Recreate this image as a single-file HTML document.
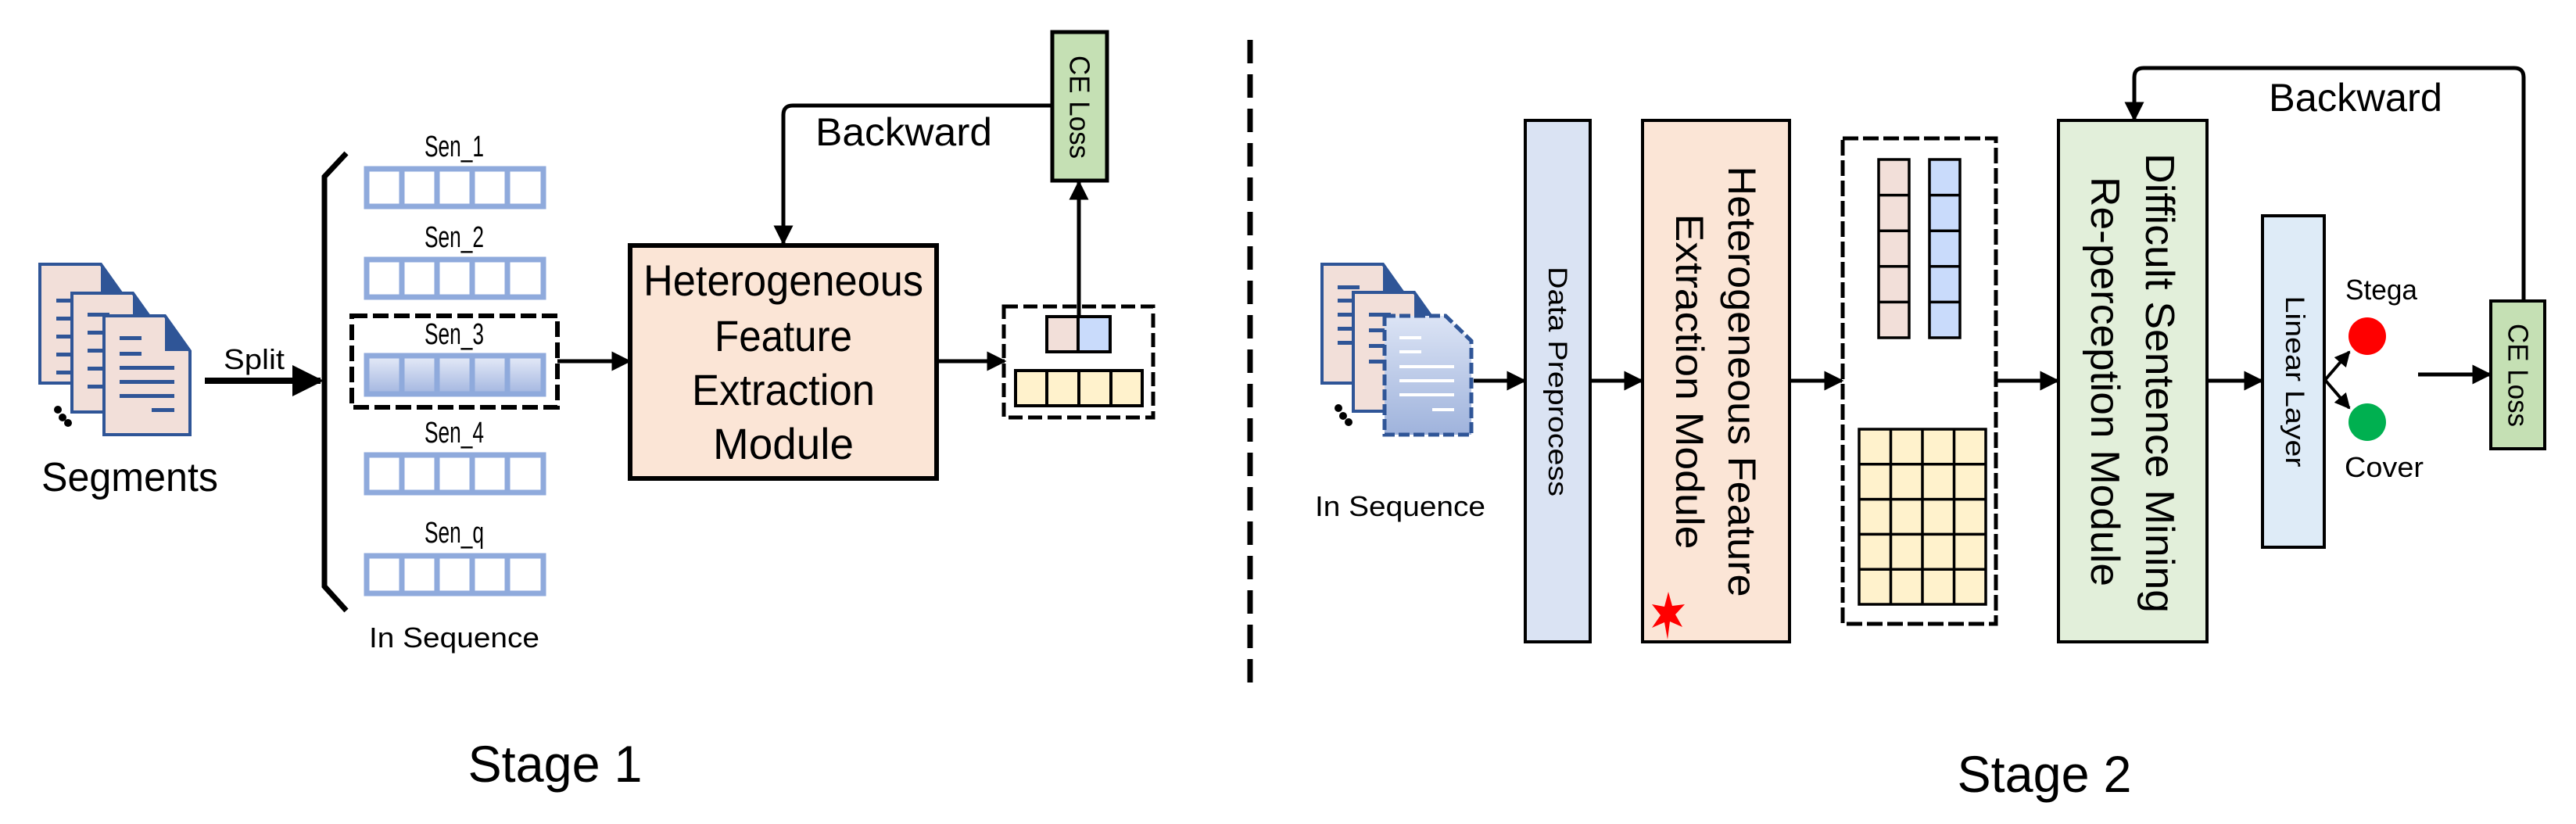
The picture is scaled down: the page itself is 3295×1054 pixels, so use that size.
<!DOCTYPE html>
<html><head><meta charset="utf-8"><style>
html,body{margin:0;padding:0;background:#fff;}
svg{display:block;}
text{font-family:"Liberation Sans",sans-serif;fill:#000;}
</style></head><body>
<svg width="3295" height="1054" viewBox="0 0 3295 1054" xmlns="http://www.w3.org/2000/svg">
<defs>
<marker id="ah" viewBox="0 0 10 10" refX="9" refY="5" markerWidth="5" markerHeight="5" orient="auto-start-reverse" markerUnits="strokeWidth"><path d="M0,0 L10,5 L0,10 z" fill="#000"/></marker>
<linearGradient id="g3" x1="0" y1="0" x2="0" y2="1"><stop offset="0" stop-color="#e6ebf8"/><stop offset="1" stop-color="#a3b6e0"/></linearGradient>
<linearGradient id="gd" x1="0" y1="0" x2="0" y2="1"><stop offset="0" stop-color="#dce4f5"/><stop offset="1" stop-color="#9fb3dc"/></linearGradient>
<g id="page">
<path d="M0,0 H78 L110,45 V152 H0 Z" fill="#f2dfd9" stroke="#2f5597" stroke-width="4"/>
<path d="M78,0 L110,45 H78 Z" fill="#2f5597"/>
</g>
</defs>

<!-- ===== Stage 1 ===== -->
<!-- docs -->
<g>
<use href="#page" x="51" y="338"/>
<g fill="#2f5597"><rect x="72" y="382" width="28" height="5"/><rect x="72" y="405" width="22" height="5"/><rect x="72" y="428" width="22" height="5"/><rect x="72" y="451" width="22" height="5"/><rect x="72" y="474" width="22" height="5"/></g>
<use href="#page" x="92" y="375"/>
<g fill="#2f5597"><rect x="112" y="400" width="28" height="5"/><rect x="112" y="423" width="22" height="5"/><rect x="112" y="446" width="22" height="5"/><rect x="112" y="469" width="22" height="5"/><rect x="112" y="492" width="22" height="5"/></g>
<use href="#page" x="133" y="404"/>
<g fill="#2f5597"><rect x="153" y="430" width="28" height="5"/><rect x="153" y="450" width="28" height="5"/><rect x="153" y="468" width="70" height="5"/><rect x="153" y="486" width="70" height="5"/><rect x="153" y="504" width="70" height="5"/><rect x="194" y="522" width="29" height="5"/></g>
<circle cx="74" cy="524" r="5"/><circle cx="80" cy="534" r="5"/><circle cx="87" cy="541" r="5"/>
</g>
<text x="166" y="628" font-size="52" text-anchor="middle" textLength="226" lengthAdjust="spacingAndGlyphs">Segments</text>

<!-- split arrow -->
<line x1="262" y1="487" x2="410" y2="487" stroke="#000" stroke-width="8" marker-end="url(#ah)"/>
<text x="325" y="472" font-size="36" text-anchor="middle" textLength="78" lengthAdjust="spacingAndGlyphs">Split</text>

<!-- bracket -->
<path d="M443,196 L415,226 V750 L443,781" fill="none" stroke="#000" stroke-width="7"/>

<!-- sen rows -->
<g stroke="#8faadc" stroke-width="7" fill="#fff">
<rect x="469" y="216" width="226" height="48"/>
<rect x="469" y="332" width="226" height="48"/>
<rect x="469" y="455" width="226" height="49" fill="url(#g3)"/>
<rect x="469" y="582" width="226" height="48"/>
<rect x="469" y="711" width="226" height="48"/>
<path d="M514,216V264 M559,216V264 M604,216V264 M649,216V264"/>
<path d="M514,332V380 M559,332V380 M604,332V380 M649,332V380"/>
<path d="M514,455V504 M559,455V504 M604,455V504 M649,455V504"/>
<path d="M514,582V630 M559,582V630 M604,582V630 M649,582V630"/>
<path d="M514,711V759 M559,711V759 M604,711V759 M649,711V759"/>
</g>
<g font-size="38" text-anchor="middle">
<text x="581" y="200" textLength="76" lengthAdjust="spacingAndGlyphs">Sen_1</text>
<text x="581" y="316" textLength="76" lengthAdjust="spacingAndGlyphs">Sen_2</text>
<text x="581" y="440" textLength="76" lengthAdjust="spacingAndGlyphs">Sen_3</text>
<text x="581" y="566" textLength="76" lengthAdjust="spacingAndGlyphs">Sen_4</text>
<text x="581" y="694" textLength="76" lengthAdjust="spacingAndGlyphs">Sen_q</text>
</g>
<rect x="450" y="404" width="263" height="117" fill="none" stroke="#000" stroke-width="6" stroke-dasharray="20,7"/>
<text x="581" y="828" font-size="36" text-anchor="middle" textLength="218" lengthAdjust="spacingAndGlyphs">In Sequence</text>

<line x1="713" y1="462" x2="805" y2="462" stroke="#000" stroke-width="5" marker-end="url(#ah)"/>

<!-- HFEM -->
<rect x="806" y="314" width="392" height="298" fill="#fbe5d6" stroke="#000" stroke-width="6"/>
<g font-size="56" text-anchor="middle">
<text x="1002" y="378" textLength="358" lengthAdjust="spacingAndGlyphs">Heterogeneous</text>
<text x="1002" y="449" textLength="176" lengthAdjust="spacingAndGlyphs">Feature</text>
<text x="1002" y="518" textLength="234" lengthAdjust="spacingAndGlyphs">Extraction</text>
<text x="1002" y="587" textLength="180" lengthAdjust="spacingAndGlyphs">Module</text>
</g>

<!-- backward 1 -->
<path d="M1346,135 H1014 Q1002,135 1002,147 V311" fill="none" stroke="#000" stroke-width="5" marker-end="url(#ah)"/>
<text x="1156" y="186" font-size="50" text-anchor="middle" textLength="226" lengthAdjust="spacingAndGlyphs">Backward</text>

<!-- CE loss 1 -->
<rect x="1346" y="41" width="70" height="190" fill="#c5e0b4" stroke="#000" stroke-width="5"/>
<text transform="translate(1381,137) rotate(90)" font-size="36" text-anchor="middle" dominant-baseline="central" textLength="132" lengthAdjust="spacingAndGlyphs">CE Loss</text>

<line x1="1198" y1="462" x2="1285" y2="462" stroke="#000" stroke-width="5" marker-end="url(#ah)"/>

<!-- output box 1 -->
<rect x="1284" y="392" width="191" height="142" fill="none" stroke="#000" stroke-width="5" stroke-dasharray="18,7"/>
<rect x="1339" y="405" width="40" height="45" fill="#f2dfd9" stroke="#000" stroke-width="4"/>
<rect x="1379" y="405" width="41" height="45" fill="#c9dbfb" stroke="#000" stroke-width="4"/>
<rect x="1299" y="474" width="162" height="45" fill="#fff2cc" stroke="#000" stroke-width="4"/>
<path d="M1339,474V519 M1380,474V519 M1421,474V519" stroke="#000" stroke-width="4"/>
<line x1="1380" y1="405" x2="1380" y2="233" stroke="#000" stroke-width="5" marker-end="url(#ah)"/>

<!-- divider -->
<line x1="1599" y1="51" x2="1599" y2="880" stroke="#000" stroke-width="7" stroke-dasharray="30,14"/>

<text x="710" y="1000" font-size="66" text-anchor="middle" textLength="223" lengthAdjust="spacingAndGlyphs">Stage 1</text>

<!-- ===== Stage 2 ===== -->
<g>
<use href="#page" x="1691" y="338"/>
<g fill="#2f5597"><rect x="1711" y="365" width="28" height="5"/><rect x="1711" y="382" width="22" height="5"/><rect x="1711" y="400" width="22" height="5"/><rect x="1711" y="418" width="22" height="5"/><rect x="1711" y="436" width="22" height="5"/></g>
<use href="#page" x="1731" y="374"/>
<g fill="#2f5597"><rect x="1751" y="400" width="28" height="5"/><rect x="1751" y="420" width="22" height="5"/><rect x="1751" y="440" width="22" height="5"/><rect x="1751" y="460" width="22" height="5"/></g>
<path d="M1771,404 H1849 L1882,436 V556 H1771 Z" fill="url(#gd)" stroke="#2f5597" stroke-width="5" stroke-dasharray="14,5"/>
<g fill="#fff"><rect x="1790" y="430" width="28" height="4"/><rect x="1790" y="448" width="28" height="4"/><rect x="1790" y="467" width="70" height="4"/><rect x="1790" y="485" width="70" height="4"/><rect x="1790" y="503" width="70" height="4"/><rect x="1832" y="522" width="28" height="4"/></g>
<circle cx="1712" cy="522" r="5"/><circle cx="1718" cy="532" r="5"/><circle cx="1725" cy="540" r="5"/>
</g>
<text x="1791" y="660" font-size="36" text-anchor="middle" textLength="218" lengthAdjust="spacingAndGlyphs">In Sequence</text>

<line x1="1885" y1="487" x2="1950" y2="487" stroke="#000" stroke-width="5" marker-end="url(#ah)"/>

<rect x="1951" y="154" width="83" height="667" fill="#dae3f3" stroke="#000" stroke-width="4"/>
<text transform="translate(1992,488) rotate(90)" font-size="34" text-anchor="middle" dominant-baseline="central" textLength="294" lengthAdjust="spacingAndGlyphs">Data Preprocess</text>

<line x1="2034" y1="487" x2="2100" y2="487" stroke="#000" stroke-width="5" marker-end="url(#ah)"/>

<rect x="2101" y="154" width="188" height="667" fill="#fbe5d6" stroke="#000" stroke-width="4"/>
<text transform="translate(2228,488) rotate(90)" font-size="50" text-anchor="middle" dominant-baseline="central" textLength="551" lengthAdjust="spacingAndGlyphs">Heterogeneous Feature</text>
<text transform="translate(2161,488) rotate(90)" font-size="50" text-anchor="middle" dominant-baseline="central" textLength="429" lengthAdjust="spacingAndGlyphs">Extraction Module</text>
<path d="M2134,757 L2139,775 L2155,773 L2143,786 L2152,802 L2136,795 L2133,818 L2129,796 L2113,803 L2124,787 L2113,773 L2129,776 Z" fill="#ff0000"/>

<line x1="2289" y1="487" x2="2356" y2="487" stroke="#000" stroke-width="5" marker-end="url(#ah)"/>

<rect x="2357" y="177" width="196" height="621" fill="none" stroke="#000" stroke-width="5" stroke-dasharray="20,6"/>
<rect x="2403" y="204" width="39" height="228" fill="#f2dfd9" stroke="#000" stroke-width="3.5"/>
<path d="M2403,249.6H2442 M2403,295.2H2442 M2403,340.8H2442 M2403,386.4H2442" stroke="#000" stroke-width="3.5"/>
<rect x="2468" y="204" width="39" height="228" fill="#c9dbfb" stroke="#000" stroke-width="3.5"/>
<path d="M2468,249.6H2507 M2468,295.2H2507 M2468,340.8H2507 M2468,386.4H2507" stroke="#000" stroke-width="3.5"/>
<rect x="2378" y="549" width="162" height="224" fill="#fff2cc" stroke="#000" stroke-width="3.5"/>
<path d="M2418.5,549V773 M2459,549V773 M2499.5,549V773 M2378,593.8H2540 M2378,638.6H2540 M2378,683.4H2540 M2378,728.2H2540" stroke="#000" stroke-width="3.5"/>

<line x1="2553" y1="487" x2="2632" y2="487" stroke="#000" stroke-width="5" marker-end="url(#ah)"/>

<rect x="2633" y="154" width="190" height="667" fill="#e2efda" stroke="#000" stroke-width="4"/>
<text transform="translate(2762,490) rotate(90)" font-size="52" text-anchor="middle" dominant-baseline="central" textLength="588" lengthAdjust="spacingAndGlyphs">Difficult Sentence Mining</text>
<text transform="translate(2692,488) rotate(90)" font-size="52" text-anchor="middle" dominant-baseline="central" textLength="524" lengthAdjust="spacingAndGlyphs">Re-perception Module</text>

<!-- backward 2 -->
<path d="M3228,384 V99 Q3228,87 3216,87 H2742 Q2730,87 2730,99 V153" fill="none" stroke="#000" stroke-width="5" marker-end="url(#ah)"/>
<text x="3013" y="142" font-size="50" text-anchor="middle" textLength="222" lengthAdjust="spacingAndGlyphs">Backward</text>

<line x1="2823" y1="487" x2="2893" y2="487" stroke="#000" stroke-width="5" marker-end="url(#ah)"/>

<rect x="2894" y="276" width="79" height="424" fill="#deebf7" stroke="#000" stroke-width="4"/>
<text transform="translate(2935,488) rotate(90)" font-size="34" text-anchor="middle" dominant-baseline="central" textLength="219" lengthAdjust="spacingAndGlyphs">Linear Layer</text>

<line x1="2974" y1="486" x2="3005" y2="450" stroke="#000" stroke-width="4" marker-end="url(#ah)"/>
<line x1="2974" y1="486" x2="3005" y2="522" stroke="#000" stroke-width="4" marker-end="url(#ah)"/>
<circle cx="3028" cy="430" r="24" fill="#ff0000"/>
<circle cx="3028" cy="540" r="24" fill="#00b050"/>
<text x="3000" y="383" font-size="36" textLength="92" lengthAdjust="spacingAndGlyphs">Stega</text>
<text x="2999" y="610" font-size="36" textLength="101" lengthAdjust="spacingAndGlyphs">Cover</text>

<line x1="3093" y1="479" x2="3185" y2="479" stroke="#000" stroke-width="5" marker-end="url(#ah)"/>
<rect x="3186" y="385" width="69" height="189" fill="#c5e0b4" stroke="#000" stroke-width="4"/>
<text transform="translate(3221,480) rotate(90)" font-size="36" text-anchor="middle" dominant-baseline="central" textLength="132" lengthAdjust="spacingAndGlyphs">CE Loss</text>

<text x="2615" y="1013" font-size="66" text-anchor="middle" textLength="223" lengthAdjust="spacingAndGlyphs">Stage 2</text>
</svg>
</body></html>
